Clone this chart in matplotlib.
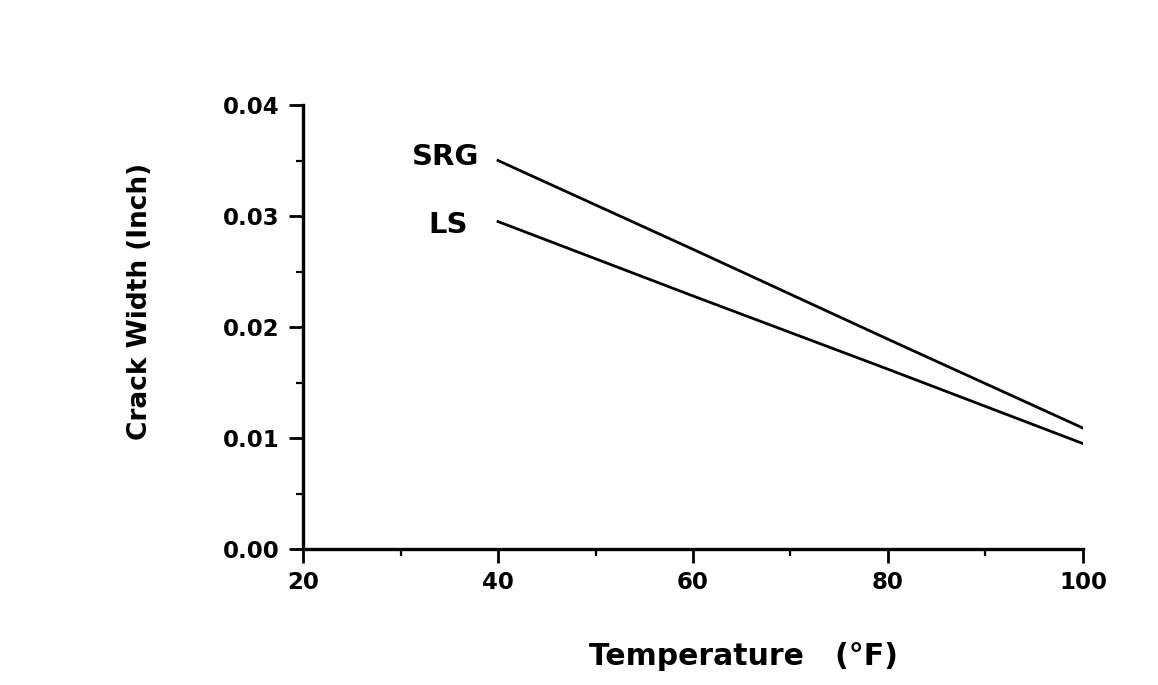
import matplotlib.pyplot as plt
from matplotlib.ticker import MultipleLocator

plt.rcParams['font.family'] = ['DejaVu Sans']

# data
temperature = [40, 60, 80, 100]
srg_width = [0.0350, 0.0270, 0.0189, 0.0109]
ls_width = [0.0295, 0.0228, 0.0162, 0.0095]

x_ticks = [20, 40, 60, 80, 100]
y_ticks = [0.00, 0.01, 0.02, 0.03, 0.04]
y_tick_labels = ['0.00', '0.01', '0.02', '0.03', '0.04']

fig = plt.figure(figsize=(11.58, 6.85), dpi=100)
ax = fig.add_axes([0.2617, 0.1985, 0.6735, 0.6482])

ax.plot(temperature, srg_width, color='black', lw=2.0)
ax.plot(temperature, ls_width, color='black', lw=2.0)

ax.text(38.1, 0.0353, 'SRG', ha='right', va='center', fontsize=21, fontweight='bold')
ax.text(36.9, 0.0292, 'LS', ha='right', va='center', fontsize=21, fontweight='bold')

ax.set_xlim(20, 100)
ax.set_ylim(0, 0.04)
ax.set_xticks(x_ticks)
ax.set_yticks(y_ticks)
ax.set_yticklabels(y_tick_labels)
ax.xaxis.set_minor_locator(MultipleLocator(10))
ax.yaxis.set_minor_locator(MultipleLocator(0.005))

for s in ['top', 'right']:
    ax.spines[s].set_visible(False)
for s in ['left', 'bottom']:
    ax.spines[s].set_linewidth(2.4)

ax.tick_params(which='major', direction='out', length=10, width=2, labelsize=16.5)
ax.tick_params(axis='y', which='major', pad=7)
ax.tick_params(axis='x', which='major', pad=6)
ax.tick_params(which='minor', direction='out', length=5, width=1.6)
for lbl in ax.get_xticklabels() + ax.get_yticklabels():
    lbl.set_fontweight('bold')

ax.set_xlabel('Temperature   (°F)', fontsize=21.5, fontweight='bold')
ax.xaxis.set_label_coords(0.565, -0.21)
ax.set_ylabel('Crack Width (Inch)', fontsize=19, fontweight='bold')
ax.yaxis.set_label_coords(-0.193, 0.558)

fig.savefig('out.png', dpi=100, facecolor='white')
